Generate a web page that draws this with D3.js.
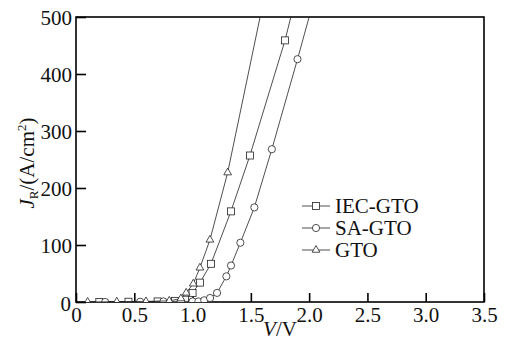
<!DOCTYPE html>
<html>
<head>
<meta charset="utf-8">
<script src="https://cdn.jsdelivr.net/npm/d3@7"></script>
<style>
  body { margin: 0; background: #fff; }
</style>
</head>
<body>
<svg id="chart" width="506" height="349"></svg>
<script>
'use strict';

// series data (V in volts, J in A/cm2)
var iecV = [0.2, 0.45, 0.7, 0.85, 0.935, 1.0, 1.063, 1.158, 1.329, 1.492, 1.793, 1.88];
var iecJ = [0, 0.5, 1, 2, 4, 16, 34, 67, 159, 257, 459, 530];

var saV = [0.25, 0.55, 0.75, 0.9, 1.0, 1.05, 1.10, 1.15, 1.21, 1.29, 1.33, 1.41, 1.53, 1.68, 1.90, 2.05];
var saJ = [0, 0.5, 1, 1, 1, 1, 3, 7, 16, 45, 64, 104, 166, 268, 426, 537];

var gtoV = [0.1, 0.35, 0.6, 0.8, 0.9, 0.945, 1.006, 1.063, 1.149, 1.301, 1.62];
var gtoJ = [0, 0.5, 1, 2, 6, 16, 32, 60, 109, 227, 540];

var xTicks = [0, 0.5, 1.0, 1.5, 2.0, 2.5, 3.0, 3.5];
var yTicks = [0, 100, 200, 300, 400, 500];

var seriesNames = ['IEC-GTO', 'SA-GTO', 'GTO'];
var seriesShapes = ['square', 'circle', 'triangle'];

var series = [
  { name: seriesNames[0], shape: seriesShapes[0], v: iecV, j: iecJ },
  { name: seriesNames[1], shape: seriesShapes[1], v: saV, j: saJ },
  { name: seriesNames[2], shape: seriesShapes[2], v: gtoV, j: gtoJ }
];

var FONT = 'Liberation Serif';

var margin = { left: 76, top: 17, right: 22, bottom: 47 };
var width = 506 - margin.left - margin.right;
var height = 349 - margin.top - margin.bottom;

var svg = d3.select('#chart');
var g = svg.append('g').attr('transform', 'translate(' + margin.left + ',' + margin.top + ')');

var x = d3.scaleLinear().domain([0, 3.5]).range([0, width]);
var y = d3.scaleLinear().domain([0, 500]).range([height, 0]);

g.append('clipPath').attr('id', 'plotclip')
  .append('rect').attr('width', width).attr('height', height);

// axes: ticks point inward, labels outside
var xAxis = g.append('g').attr('transform', 'translate(0,' + height + ')')
  .call(d3.axisBottom(x).tickValues(xTicks).tickSize(-9).tickPadding(5)
    .tickFormat(function (d) { return d === 0 ? '0' : d3.format('.1f')(d); }));
var yAxis = g.append('g')
  .call(d3.axisLeft(y).tickValues(yTicks).tickSize(-10).tickPadding(4));

[xAxis, yAxis].forEach(function (a) {
  a.attr('font-family', FONT).attr('font-size', 21);
  a.select('.domain').remove();
  a.selectAll('line').attr('stroke', '#000').attr('stroke-width', 1.6);
  a.selectAll('text').attr('fill', '#111');
});
yAxis.selectAll('.tick text').attr('dy', '0.35em');
yAxis.selectAll('.tick').filter(function (d) { return d === 0; }).select('text').attr('dx', -1).attr('dy', '0.4em');

g.append('rect').attr('width', width).attr('height', height)
  .attr('fill', 'none').attr('stroke', '#000').attr('stroke-width', 1.6);

var line = d3.line().x(function (d) { return x(d[0]); }).y(function (d) { return y(d[1]); });

function drawMarker(sel, shape) {
  if (shape === 'square') {
    sel.append('rect').attr('x', -3.5).attr('y', -3.5).attr('width', 7).attr('height', 7);
  } else if (shape === 'circle') {
    sel.append('circle').attr('r', 3.6);
  } else {
    sel.append('path').attr('d', d3.symbol().type(d3.symbolTriangle).size(26)());
  }
  sel.attr('fill', '#fff').attr('stroke', '#222').attr('stroke-width', 0.8);
}

var plot = g.append('g').attr('clip-path', 'url(#plotclip)');

series.forEach(function (s) {
  var pts = s.v.map(function (v, i) { return [v, s.j[i]]; });
  plot.append('path').datum(pts).attr('d', line)
    .attr('fill', 'none').attr('stroke', '#222').attr('stroke-width', 0.8);
  plot.selectAll(null).data(pts.filter(function (p) { return p[1] <= 500; }))
    .enter().append('g')
    .attr('transform', function (p) { return 'translate(' + x(p[0]) + ',' + y(p[1]) + ')'; })
    .each(function () { drawMarker(d3.select(this), s.shape); });
});

// legend
var legend = svg.append('g').attr('transform', 'translate(302,206)')
  .attr('font-family', FONT);
series.forEach(function (s, i) {
  var row = legend.append('g').attr('transform', 'translate(0,' + (i * 22) + ')');
  row.append('line').attr('x1', 0).attr('x2', 28).attr('stroke', '#222').attr('stroke-width', 0.8);
  drawMarker(row.append('g').attr('transform', 'translate(14,0)'), s.shape);
  row.append('text').attr('x', 33).attr('dy', '0.35em').attr('font-size', 21)
    .attr('fill', '#111').attr('stroke', 'none').text(s.name);
});

// axis titles
var xt = svg.append('text').attr('x', margin.left + width / 2).attr('y', 336)
  .attr('text-anchor', 'middle').attr('font-size', 21).attr('font-family', FONT).attr('fill', '#111');
xt.append('tspan').attr('font-style', 'italic').text('V');
xt.append('tspan').text('/V');

var yt = svg.append('text').attr('transform', 'translate(34,163) rotate(-90)')
  .attr('text-anchor', 'middle').attr('font-size', 21).attr('font-family', FONT).attr('fill', '#111');
yt.append('tspan').attr('font-style', 'italic').text('J');
yt.append('tspan').attr('dy', 4).attr('font-size', 13).text('R');
yt.append('tspan').attr('dy', -4).text('/(A/cm');
yt.append('tspan').attr('dy', -8).attr('font-size', 13).text('2');
yt.append('tspan').attr('dy', 8).text(')');
</script>
</body>
</html>
